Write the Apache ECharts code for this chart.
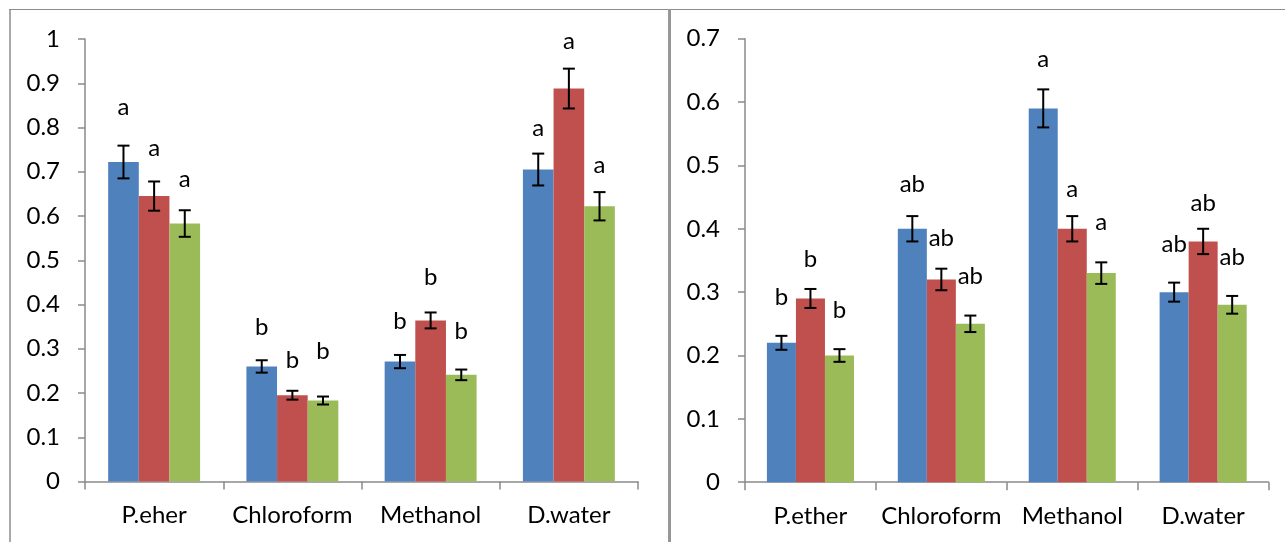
<!DOCTYPE html>
<html>
<head>
<meta charset="utf-8">
<script src="https://cdn.jsdelivr.net/npm/echarts@6/dist/echarts.min.js"></script>
<style>
html,body{margin:0;padding:0;background:#fff;}
#c{width:1285px;height:542px;}
</style>
</head>
<body>
<div id="c"></div>
<script>
// ---- Data ----
const leftCategories = ['P.eher', 'Chloroform', 'Methanol', 'D.water'];
const rightCategories = ['P.ether', 'Chloroform', 'Methanol', 'D.water'];

const leftBlue  = [0.722, 0.260, 0.271, 0.705];
const leftRed   = [0.645, 0.195, 0.364, 0.888];
const leftGreen = [0.583, 0.183, 0.241, 0.622];
const leftBlueErr  = [0.037, 0.014, 0.015, 0.036];
const leftRedErr   = [0.033, 0.010, 0.018, 0.045];
const leftGreenErr = [0.030, 0.009, 0.012, 0.032];
const leftBlueLetters  = ['a', 'b', 'b', 'a'];
const leftRedLetters   = ['a', 'b', 'b', 'a'];
const leftGreenLetters = ['a', 'b', 'b', 'a'];
const leftBlueLetterAt  = [0.846, 0.349, 0.361, 0.799];
const leftRedLetterAt   = [0.752, 0.275, 0.461, 0.995];
const leftGreenLetterAt = [0.683, 0.295, 0.340, 0.715];

const rightBlue  = [0.22, 0.40, 0.59, 0.30];
const rightRed   = [0.29, 0.32, 0.40, 0.38];
const rightGreen = [0.20, 0.25, 0.33, 0.28];
const rightBlueErr  = [0.011, 0.020, 0.030, 0.015];
const rightRedErr   = [0.015, 0.017, 0.020, 0.020];
const rightGreenErr = [0.010, 0.013, 0.017, 0.014];
const rightBlueLetters  = ['b', 'ab', 'a', 'ab'];
const rightRedLetters   = ['b', 'ab', 'a', 'ab'];
const rightGreenLetters = ['b', 'ab', 'a', 'ab'];
const rightBlueLetterAt  = [0.292, 0.471, 0.668, 0.376];
const rightRedLetterAt   = [0.352, 0.385, 0.462, 0.441];
const rightGreenLetterAt = [0.272, 0.325, 0.411, 0.355];

const leftTicks = { min: 0, max: 1, interval: 0.1 };
const rightTicks = { min: 0, max: 0.7, interval: 0.1 };

// ---- Styles ----
const COLORS = ['#4F81BD', '#C0504D', '#9BBB59'];
const GAP = 0.335;
const FONT = 'Lato, "Open Sans", sans-serif';
const FS = 24;
const AXIS_COLOR = '#8a8a8a';

function errSeries(gridIdx, k, vals, errs, letters, letterAt) {
  return {
    type: 'custom',
    xAxisIndex: gridIdx, yAxisIndex: gridIdx,
    z: 10, clip: false, silent: true,
    data: vals.map((v, i) => [i, v, errs[i], letterAt[i]]),
    encode: { x: 0, y: 1 },
    renderItem: function (params, api) {
      const cat = api.value(0);
      const v = api.value(1), e = api.value(2), ly = api.value(3);
      const bandW = api.size([1, 0])[0];
      const barW = bandW * (1 - GAP) / 3;
      const off = (k - 1) * barW;
      const top = api.coord([cat, v + e]);
      const bot = api.coord([cat, v - e]);
      const lp = api.coord([cat, ly]);
      const x = top[0] + off;
      const cap = 6;
      const st = { stroke: '#000', lineWidth: 2 };
      return {
        type: 'group',
        children: [
          { type: 'line', shape: { x1: x, y1: top[1], x2: x, y2: bot[1] }, style: st },
          { type: 'line', shape: { x1: x - cap, y1: top[1], x2: x + cap, y2: top[1] }, style: st },
          { type: 'line', shape: { x1: x - cap, y1: bot[1], x2: x + cap, y2: bot[1] }, style: st },
          { type: 'text', x: x, y: lp[1], style: { text: letters[params.dataIndex], font: FS + 'px ' + FONT, fill: '#000', align: 'center', verticalAlign: 'middle' } }
        ]
      };
    }
  };
}

function barSeries(gridIdx, k, vals) {
  return {
    type: 'bar', xAxisIndex: gridIdx, yAxisIndex: gridIdx,
    data: vals, barGap: '0%', barCategoryGap: (GAP * 100) + '%',
    itemStyle: { color: COLORS[k] }, silent: true
  };
}

function xAxis(gridIdx, cats) {
  return {
    type: 'category', gridIndex: gridIdx, data: cats,
    axisLine: { lineStyle: { color: AXIS_COLOR, width: 1.5 } },
    axisTick: { show: true, length: 8, lineStyle: { color: AXIS_COLOR, width: 1.5 } },
    axisLabel: { color: '#000', fontFamily: FONT, fontSize: FS, margin: 22, interval: 0, hideOverlap: false }
  };
}
function yAxis(gridIdx, t) {
  return {
    type: 'value', gridIndex: gridIdx, min: t.min, max: t.max, interval: t.interval,
    axisLine: { show: true, lineStyle: { color: AXIS_COLOR, width: 1.5 } },
    axisTick: { show: true, length: 7, lineStyle: { color: AXIS_COLOR, width: 1.5 } },
    splitLine: { show: false },
    axisLabel: { color: '#000', fontFamily: FONT, fontSize: FS, margin: 25,
      formatter: v => String(Math.round(v * 10) / 10) }
  };
}

const chart = echarts.init(document.getElementById('c'), null, { renderer: 'canvas' });
chart.setOption({
  animation: false,
  backgroundColor: '#fff',
  grid: [
    { left: 85, top: 39, width: 553, height: 442.5 },
    { left: 745, top: 38.7, width: 523.6, height: 443.5 }
  ],
  xAxis: [xAxis(0, leftCategories), xAxis(1, rightCategories)],
  yAxis: [yAxis(0, leftTicks), yAxis(1, rightTicks)],
  series: [
    barSeries(0, 0, leftBlue), barSeries(0, 1, leftRed), barSeries(0, 2, leftGreen),
    barSeries(1, 0, rightBlue), barSeries(1, 1, rightRed), barSeries(1, 2, rightGreen),
    errSeries(0, 0, leftBlue, leftBlueErr, leftBlueLetters, leftBlueLetterAt),
    errSeries(0, 1, leftRed, leftRedErr, leftRedLetters, leftRedLetterAt),
    errSeries(0, 2, leftGreen, leftGreenErr, leftGreenLetters, leftGreenLetterAt),
    errSeries(1, 0, rightBlue, rightBlueErr, rightBlueLetters, rightBlueLetterAt),
    errSeries(1, 1, rightRed, rightRedErr, rightRedLetters, rightRedLetterAt),
    errSeries(1, 2, rightGreen, rightGreenErr, rightGreenLetters, rightGreenLetterAt)
  ],
  graphic: [
    { type: 'line', shape: { x1: 9, y1: 9.5, x2: 1285, y2: 9.5 }, style: { stroke: '#8c8c8c', lineWidth: 1 } },
    { type: 'line', shape: { x1: 10, y1: 9, x2: 10, y2: 542 }, style: { stroke: '#8c8c8c', lineWidth: 1.5 } },
    { type: 'rect', shape: { x: 668, y: 9, width: 3, height: 533 }, style: { fill: '#979797' } }
  ]
});
</script>
</body>
</html>
